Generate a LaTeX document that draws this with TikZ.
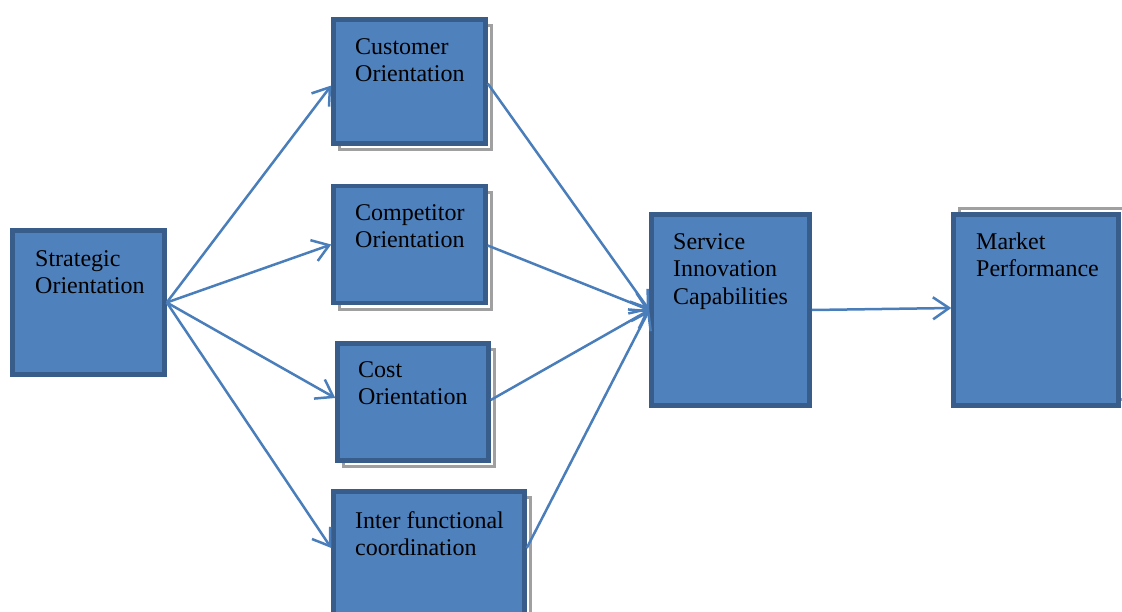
\documentclass[tikz,border=0pt]{standalone}
\usepackage{fontspec}
\setmainfont{Liberation Serif}
\usetikzlibrary{arrows.meta,shadows}
\definecolor{boxfill}{HTML}{4F81BD}
\definecolor{boxline}{HTML}{385D8A}
\definecolor{linkblue}{HTML}{4A7EBB}
\definecolor{shadowgray}{HTML}{A0A0A0}
\begin{document}
\begin{tikzpicture}[x=1pt,y=-1pt,
  block/.style={draw=boxline,fill=boxfill,line width=4.5pt,inner sep=0pt,
    rectangle,minimum width=#1},
  boxshadow/.style={copy shadow={shadow xshift=6pt,shadow yshift=#1,
    draw=shadowgray,fill=white,line width=3pt}},
  boxshadow/.default=-6pt,
  % the base anchor of a multi-line label sits on its last line
  label/.style={anchor=base west,inner sep=0pt,align=left,
    font=\fontsize{24pt}{27.6pt}\selectfont},
  link/.style={draw=linkblue,line width=2.5pt,
    -{Straight Barb[length=16pt,width=22pt,line width=2.5pt]}}]
\useasboundingbox (0,0) rectangle (1122,611);

% boxes (centre, width, height from outer edges less the border)
\node[block=152pt,minimum height=144pt] (strat) at (88.5,302.5) {};
\node[block=152pt,minimum height=124pt,boxshadow] (cust) at (409.5,81.5) {};
\node[block=152pt,minimum height=117pt,boxshadow] (comp) at (409.5,244.5) {};
\node[block=151pt,minimum height=117pt,boxshadow] (cost) at (413,402) {};
\node[block=191pt,minimum height=127pt,boxshadow] (inter) at (429,555) {};
\node[block=158pt,minimum height=191pt] (serv) at (730.5,310) {};
\node[block=165pt,minimum height=191pt,boxshadow=6pt] (mkt) at (1036,310) {};

% box texts
\node[label] (stratT) at (35,293.6) {Strategic\\Orientation};
\node[label] (custT) at (355,81.6) {Customer\\Orientation};
\node[label] (compT) at (355,247.6) {Competitor\\Orientation};
\node[label] (costT) at (358,404.6) {Cost\\Orientation};
\node[label] (interT) at (355,555.6) {Inter functional\\coordination};
\node[label] (servT) at (673,304.2) {Service\\Innovation\\Capabilities};
\node[label] (mktT) at (976,276.6) {Market\\Performance};

% strategic orientation feeds the four orientations
\draw[link] (strat.east) -- ([yshift=-4pt]cust.west);
\draw[link] (strat.east) -- (comp.west);
\draw[link] (strat.east) -- ([yshift=4pt]cost.west);
\draw[link] (strat.east) -- ([yshift=7pt]inter.west);

% the four orientations feed service innovation
\draw[link] ([yshift=-2pt]cust.east) -- (serv.west);
\draw[link] ([yshift=-1pt]comp.east) -- (serv.west);
\draw[link] ([yshift=2pt]cost.east) -- (serv.west);
\draw[link] ([yshift=7pt]inter.east) -- (serv.west);

% service innovation drives market performance
\draw[link] (serv.east) -- ([yshift=2pt]mkt.west);
\end{tikzpicture}
\end{document}
